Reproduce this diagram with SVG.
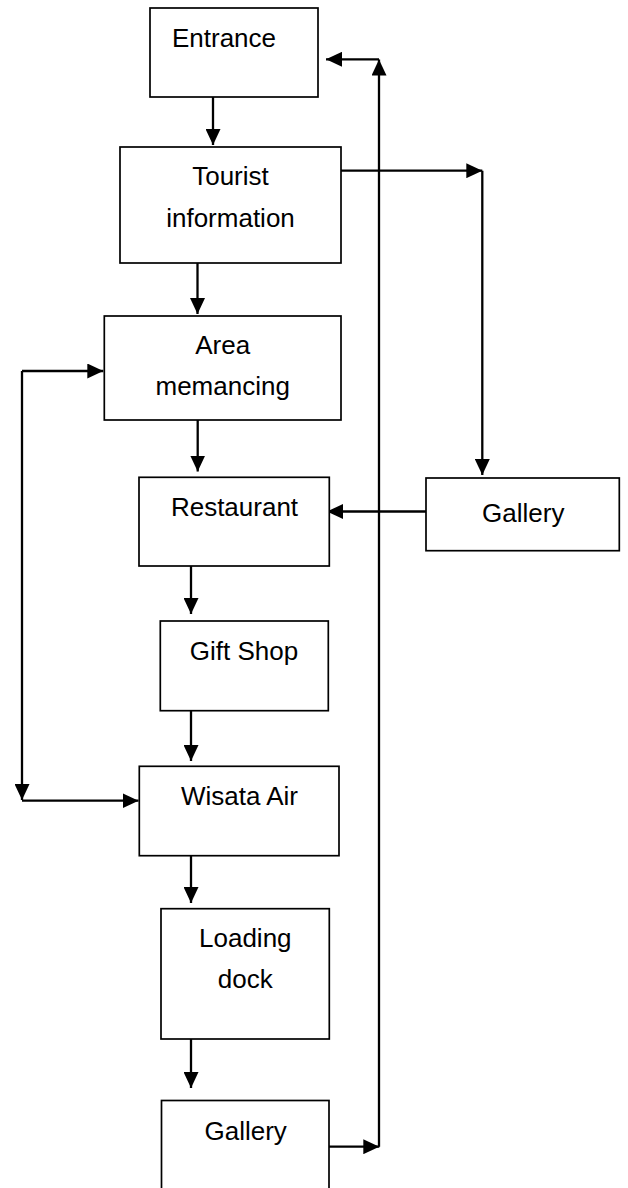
<svg xmlns="http://www.w3.org/2000/svg" width="628" height="1188" viewBox="0 0 628 1188">
<style>
.box{fill:#fff;stroke:#000;stroke-width:1.7}
.lbl{font-family:"Liberation Sans",Arial,sans-serif;font-size:26px;fill:#000;text-anchor:middle}
.c{fill:none;stroke:#000;stroke-width:2.3;marker-end:url(#ah)}
</style>
<defs>
<marker id="ah" markerUnits="userSpaceOnUse" markerWidth="17" markerHeight="15" refX="16" refY="7.5" orient="auto">
<path d="M0,0 L16,7.5 L0,15 z" fill="#000"/>
</marker>
</defs>
<rect width="628" height="1188" fill="#fff"/>
<g id="connectors">
<path class="c" d="M213,93 V145"/>
<path class="c" d="M197.5,263 V314"/>
<path class="c" d="M197.7,420 V471.5"/>
<path class="c" d="M191,563 V614"/>
<path class="c" d="M191,708 V761"/>
<path class="c" d="M191,852 V903"/>
<path class="c" d="M191,1035 V1088"/>
<path class="c" d="M335,170.7 H482.3"/>
<path class="c" d="M482.3,170.7 V475"/>
<path class="c" d="M426,511.5 H327"/>
<path class="c" d="M22,371 H103.3"/>
<path class="c" d="M22,371 V800"/>
<path class="c" d="M22,800.7 H138.5"/>
<path class="c" d="M324,1146.7 H379.3"/>
<path class="c" d="M379,1146.7 V59.5"/>
<path class="c" d="M379,59.3 H326"/>
</g>
<g id="entrance">
<rect class="box" x="150" y="8" width="168" height="89"/>
<text class="lbl" x="224" y="47">Entrance</text>
</g>
<g id="tourist-information">
<rect class="box" x="120" y="147" width="221" height="116"/>
<text class="lbl" x="230.5" y="185">Tourist</text>
<text class="lbl" x="230.5" y="226.7">information</text>
</g>
<g id="area-memancing">
<rect class="box" x="104.3" y="316" width="236.7" height="104"/>
<text class="lbl" x="222.7" y="354.3">Area</text>
<text class="lbl" x="222.7" y="395">memancing</text>
</g>
<g id="restaurant">
<rect class="box" x="139" y="477.3" width="190.3" height="88.7"/>
<text class="lbl" x="234.5" y="515.7">Restaurant</text>
</g>
<g id="gallery-right">
<rect class="box" x="426" y="478" width="193.3" height="72.7"/>
<text class="lbl" x="523.3" y="521.7">Gallery</text>
</g>
<g id="gift-shop">
<rect class="box" x="160.3" y="621" width="168" height="89.7"/>
<text class="lbl" x="244" y="660">Gift Shop</text>
</g>
<g id="wisata-air">
<rect class="box" x="139.3" y="766.3" width="199.7" height="89.4"/>
<text class="lbl" x="239.5" y="805">Wisata Air</text>
</g>
<g id="loading-dock">
<rect class="box" x="161" y="908.7" width="168.3" height="130.3"/>
<text class="lbl" x="245.3" y="947">Loading</text>
<text class="lbl" x="245.3" y="988">dock</text>
</g>
<g id="gallery-bottom">
<rect class="box" x="161.5" y="1100.5" width="167.5" height="120"/>
<text class="lbl" x="245.7" y="1140">Gallery</text>
</g>
</svg>
